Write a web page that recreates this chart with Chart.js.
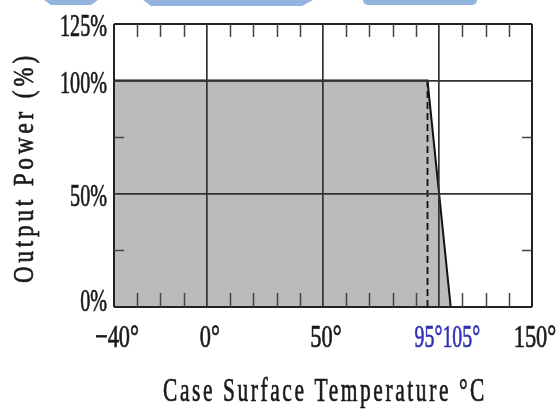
<!DOCTYPE html>
<html>
<head>
<meta charset="utf-8">
<script src="https://cdn.jsdelivr.net/npm/chart.js@4"></script>
<style>
  html, body { margin: 0; padding: 0; background: #fff; }
  #wrap { width: 559px; height: 412px; }
</style>
</head>
<body>
<div id="wrap"><canvas id="derating" width="559" height="412"></canvas></div>
<script>
// derating curve: case temperature (°C) vs output power (%)
const caseTemp = [-40, 95, 105];
const outputPct = [100, 100, 0];
// dashed marker at the start of derating
const markerTemp = [95, 95];
const markerPct = [0, 100];

const X_MIN = -40;
const X_MAX = 140;            // right edge is labelled 150° in the original
const xMajor = [0, 50, 100];
const xTickValues = [-40, 0, 50, 140];
const xTickLabels = ['−40°', '0°', '50°', '150°'];
const xBlueValues = [95, 105];
const xBlueLabels = ['95°', '105°'];

const yMajor = [50, 100];
const yTickValues = [0, 50, 100, 125];
const yTickLabels = ['0%', '50%', '100%', '125%'];

const xTitle = 'Case Surface Temperature °C';
const yTitle = 'Output Power (%)';

const SERIF = '"Liberation Serif", "DejaVu Serif", serif';
const INK = '#1a1a1a';

function points(xs, ys) {
  return xs.map((x, i) => ({ x, y: ys[i] }));
}

function gridStyle(majors, edges) {
  return {
    z: 1,
    drawTicks: false,
    color: ctx => {
      const v = ctx.tick?.value;
      if (edges.includes(v)) return '#222';
      return majors.includes(v) ? '#333' : 'rgba(0,0,0,0)';
    },
    lineWidth: ctx => (edges.includes(ctx.tick?.value) ? 2 : 1.7),
  };
}

function drawText(ctx, text, x, y, { size, sx = 1, align = 'center', color = INK, rotate = false, spacing = 0 }) {
  ctx.save();
  ctx.translate(x, y);
  if (rotate) ctx.rotate(-Math.PI / 2);
  ctx.scale(sx, 1);
  ctx.font = `${size}px ${SERIF}`;
  ctx.letterSpacing = `${spacing}px`;
  ctx.textAlign = align;
  ctx.textBaseline = 'alphabetic';
  ctx.fillStyle = color;
  ctx.strokeStyle = color;
  ctx.lineWidth = 0.7;
  ctx.fillText(text, 0, 0);
  ctx.strokeText(text, 0, 0);
  ctx.restore();
}

function fitScale(ctx, text, size, width, spacing = 0) {
  ctx.save();
  ctx.font = `${size}px ${SERIF}`;
  ctx.letterSpacing = `${spacing}px`;
  const w = ctx.measureText(text).width;
  ctx.restore();
  return width / w;
}

// faint blue shapes along the top edge (cut-off logo in the source image)
const topBanner = {
  id: 'topBanner',
  beforeDraw(chart) {
    const ctx = chart.ctx;
    ctx.save();
    ctx.fillStyle = '#93b3df';
    ctx.beginPath();
    ctx.moveTo(44, 0); ctx.lineTo(98, 0); ctx.lineTo(91, 5); ctx.lineTo(51, 5); ctx.closePath();
    ctx.moveTo(143, 0); ctx.lineTo(313, 0); ctx.lineTo(302, 6); ctx.lineTo(151, 6); ctx.closePath();
    ctx.fill();
    ctx.beginPath();
    ctx.roundRect(363, -6, 114, 11, 5);
    ctx.fill();
    ctx.restore();
  },
};

const axisDecor = {
  id: 'axisDecor',
  afterDraw(chart) {
    const { ctx, chartArea: area, scales: { x, y } } = chart;
    ctx.save();

    // inward minor ticks
    ctx.strokeStyle = '#444';
    ctx.lineWidth = 1.5;
    ctx.beginPath();
    x.ticks.forEach(t => {
      if (xMajor.includes(t.value) || t.value === X_MIN || t.value === X_MAX) return;
      const px = Math.round(x.getPixelForValue(t.value)) + 0.5;
      ctx.moveTo(px, area.bottom); ctx.lineTo(px, area.bottom - 14);
      ctx.moveTo(px, area.top); ctx.lineTo(px, area.top + 13);
    });
    y.ticks.forEach(t => {
      if (yMajor.includes(t.value) || yTickValues.includes(t.value)) return;
      const py = Math.round(y.getPixelForValue(t.value)) + 0.5;
      ctx.moveTo(area.left, py); ctx.lineTo(area.left + 10, py);
      ctx.moveTo(area.right, py); ctx.lineTo(area.right - 10, py);
    });
    ctx.stroke();

    // y tick labels
    yTickValues.forEach((v, i) => {
      const py = y.getPixelForValue(v) + (v === 0 ? 4 : 12);
      drawText(ctx, yTickLabels[i], area.left - 7, py, { size: 32, sx: 0.63, align: 'right' });
    });

    // x tick labels
    const base = area.bottom + 40;
    xTickValues.forEach((v, i) => {
      const px = x.getPixelForValue(v) + 3;
      drawText(ctx, xTickLabels[i], px, base, { size: 32, sx: 0.7 });
    });

    // blue derating labels, set side by side
    ctx.save();
    ctx.font = `32px ${SERIF}`;
    const w95 = ctx.measureText(xBlueLabels[0]).width * 0.62;
    ctx.restore();
    const p95 = x.getPixelForValue(xBlueValues[0]) + 1;
    drawText(ctx, xBlueLabels[0], p95, base, { size: 32, sx: 0.62, color: '#3030b4' });
    drawText(ctx, xBlueLabels[1], p95 + w95 / 2, base, { size: 32, sx: 0.62, align: 'left', color: '#3030b4' });

    // axis titles (narrow letters, loose spacing like the source)
    const cx = (area.left + area.right) / 2 + 2;
    drawText(ctx, xTitle, cx, 401, { size: 33, spacing: 4, sx: fitScale(ctx, xTitle, 33, 324, 4) });
    const cy = (area.top + area.bottom) / 2 + 2;
    drawText(ctx, yTitle, 33, cy, { size: 29, spacing: 5, rotate: true, sx: fitScale(ctx, yTitle, 29, 231, 5) });

    ctx.restore();
  },
};

new Chart(document.getElementById('derating'), {
  type: 'line',
  data: {
    datasets: [
      {
        data: points(caseTemp, outputPct),
        borderColor: '#111',
        borderWidth: 2,
        backgroundColor: '#bbbbbb',
        fill: 'origin',
        pointRadius: 0,
        tension: 0,
        order: 1,
      },
      {
        data: points(markerTemp, markerPct),
        borderColor: '#111',
        borderWidth: 1.8,
        borderDash: [7, 4],
        fill: false,
        pointRadius: 0,
        order: 0,
      },
    ],
  },
  options: {
    responsive: false,
    animation: false,
    layout: { padding: { left: 114, top: 24, right: 27, bottom: 105 } },
    plugins: { legend: { display: false }, tooltip: { enabled: false } },
    scales: {
      x: {
        type: 'linear',
        min: X_MIN,
        max: X_MAX,
        ticks: { display: false, stepSize: 10 },
        grid: gridStyle(xMajor, [X_MIN, X_MAX]),
        border: { display: false },
      },
      y: {
        type: 'linear',
        min: 0,
        max: 125,
        ticks: { display: false, stepSize: 25 },
        grid: gridStyle(yMajor, [0, 125]),
        border: { display: false },
      },
    },
  },
  plugins: [topBanner, axisDecor],
});
</script>
</body>
</html>
